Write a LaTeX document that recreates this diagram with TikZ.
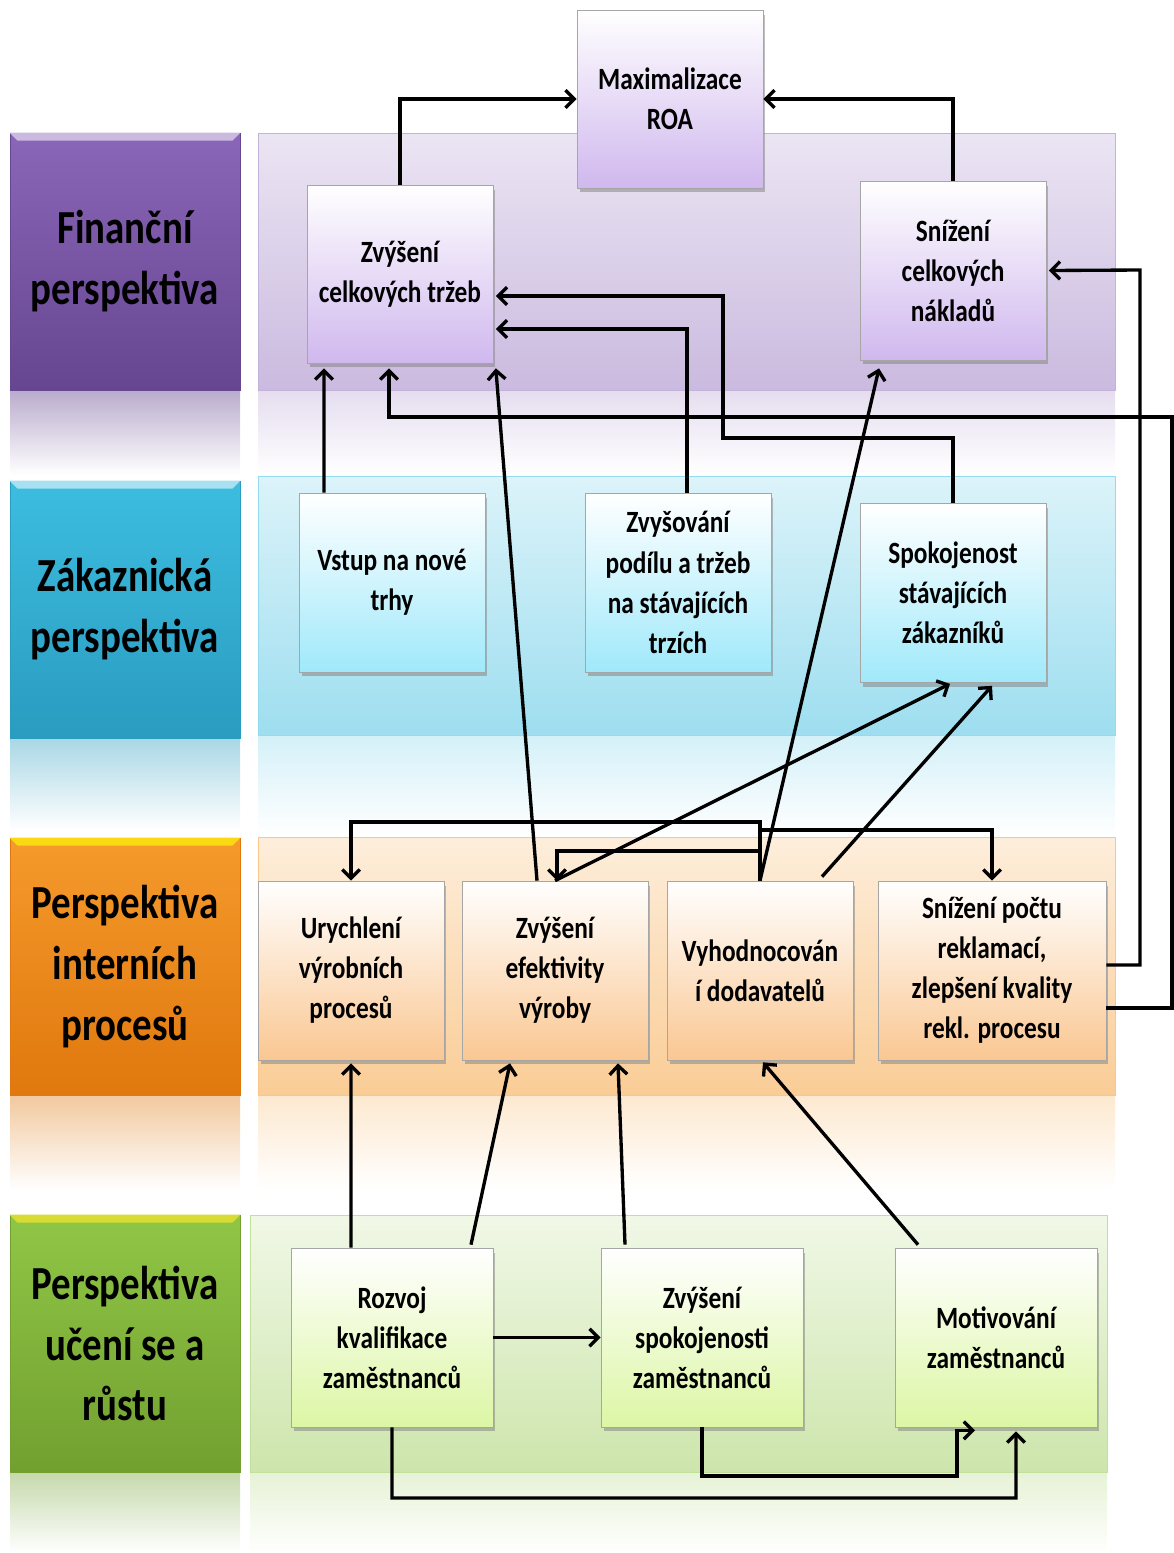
\documentclass[tikz,border=0pt]{standalone}
\usepackage{fontspec}
\setmainfont{Carlito}[FakeStretch=0.82]
\usetikzlibrary{shadows,arrows.meta}

\definecolor{finDark}{HTML}{664690}
\definecolor{finMid}{HTML}{8A66B8}
\definecolor{zakDark}{HTML}{2A9CC0}
\definecolor{zakMid}{HTML}{3CBDE0}
\definecolor{intDark}{HTML}{E0780E}
\definecolor{intMid}{HTML}{F59A2C}
\definecolor{ucDark}{HTML}{72A030}
\definecolor{ucMid}{HTML}{90C646}
\definecolor{finbox}{HTML}{D0B8EE}
\definecolor{zakbox}{HTML}{A0E9FA}
\definecolor{intbox}{HTML}{FAC792}
\definecolor{ucbox}{HTML}{DCF6A4}

\tikzset{
  label/.style={minimum width=4.6cm, minimum height=5.14cm, align=center,
    font=\bfseries\fontsize{27}{34.7}\selectfont},
  box/.style={draw=black!35, minimum width=3.72cm, minimum height=3.58cm, align=center,
    font=\bfseries\fontsize{17.6}{22.8}\selectfont,
    drop shadow={opacity=0.5, shadow xshift=0.5mm, shadow yshift=-0.9mm}},
  arr/.style={-{Straight Barb[length=5pt,width=10pt]}, line width=1.9pt},
}

\begin{document}
\begin{tikzpicture}[x=0.02cm, y=-0.02cm]
  \useasboundingbox (0,0) rectangle (1174,1553);

  % pasy perspektiv
  \shade[top color=finMid!17!white, bottom color=finMid!45!white, draw=finMid!50] (258,133) rectangle (1115,390);
  \shade[top color=finMid!22!white, bottom color=white] (258,391) rectangle (1115,475);
  \shade[top color=zakMid!18!white, bottom color=zakMid!50!white, draw=zakMid!55] (258,476) rectangle (1115,735);
  \shade[top color=zakMid!22!white, bottom color=white] (258,736) rectangle (1115,836);
  \shade[top color=intMid!17!white, bottom color=intMid!50!white, draw=intMid!55] (258,837) rectangle (1115,1095);
  \shade[top color=intMid!22!white, bottom color=white] (258,1096) rectangle (1115,1190);
  \shade[top color=ucMid!13!white, bottom color=ucMid!45!white, draw=ucMid!55] (250,1215) rectangle (1107,1472);
  \shade[top color=ucMid!22!white, bottom color=white] (250,1473) rectangle (1107,1553);

  % odlesky pod popisky
  \shade[top color=finDark!45!white, bottom color=white] (10,391) rectangle (240,475);
  \shade[top color=zakDark!40!white, bottom color=white] (10,739) rectangle (240,830);
  \shade[top color=intDark!40!white, bottom color=white] (10,1096) rectangle (240,1190);
  \shade[top color=ucDark!40!white, bottom color=white] (10,1473) rectangle (240,1553);

  % popisky perspektiv
  \node [label, top color=finMid, bottom color=finDark, draw=finDark] (fin) at (125,261.5) {Finanční\\perspektiva};
  \node [label, top color=zakMid, bottom color=zakDark, draw=zakDark] (zak) at (125,609.5) {Zákaznická\\perspektiva};
  \node [label, top color=intMid, bottom color=intDark, draw=intDark] (int) at (125,966.5) {Perspektiva\\interních\\procesů};
  \node [label, top color=ucMid, bottom color=ucDark, draw=ucDark] (uc) at (125,1343.5) {Perspektiva\\učení se a\\růstu};
  % horni hrana popisku
  \fill[finMid!45!white] (fin.north west) -- (fin.north east) -- ++(-8,8) -- ([xshift=0.16cm,yshift=-0.16cm]fin.north west) -- cycle;
  \fill[zakMid!45!white] (zak.north west) -- (zak.north east) -- ++(-8,8) -- ([xshift=0.16cm,yshift=-0.16cm]zak.north west) -- cycle;
  \fill[yellow!70!intMid] (int.north west) -- (int.north east) -- ++(-8,8) -- ([xshift=0.16cm,yshift=-0.16cm]int.north west) -- cycle;
  \fill[yellow!60!ucMid] (uc.north west) -- (uc.north east) -- ++(-8,8) -- ([xshift=0.16cm,yshift=-0.16cm]uc.north west) -- cycle;

  % financni
  \node [box, top color=white, bottom color=finbox, minimum height=3.56cm] (roa) at (670,99) {Maximalizace\\ROA};
  \node [box, top color=white, bottom color=finbox, minimum height=3.56cm] (trzby) at (400,274) {Zvýšení\\celkových tržeb};
  \node [box, top color=white, bottom color=finbox] (naklady) at (953,270.5) {Snížení\\celkových\\nákladů};

  % zakaznicka
  \node [box, top color=white, bottom color=zakbox] (vstup) at (392,582.5) {Vstup na nové\\trhy};
  \node [box, top color=white, bottom color=zakbox] (podil) at (678,582.5) {Zvyšování\\podílu a tržeb\\na stávajících\\trzích};
  \node [box, top color=white, bottom color=zakbox] (spokoj) at (953,593) {Spokojenost\\stávajících\\zákazníků};

  % interni procesy
  \node [box, top color=white, bottom color=intbox] (urych) at (351,970.5) {Urychlení\\výrobních\\procesů};
  \node [box, top color=white, bottom color=intbox] (efekt) at (555,970.5) {Zvýšení\\efektivity\\výroby};
  \node [box, top color=white, bottom color=intbox] (vyhod) at (760,970.5) {Vyhodnocován\\í dodavatelů};
  \node [box, top color=white, bottom color=intbox, minimum width=4.56cm] (reklam) at (992,970.5) {Snížení počtu\\reklamací,\\zlepšení kvality\\rekl. procesu};

  % uceni a rust
  \node [box, top color=white, bottom color=ucbox, minimum width=4.04cm] (rozvoj) at (392,1337.5) {Rozvoj\\kvalifikace\\zaměstnanců};
  \node [box, top color=white, bottom color=ucbox, minimum width=4.04cm] (spokzam) at (702,1337.5) {Zvýšení\\spokojenosti\\zaměstnanců};
  \node [box, top color=white, bottom color=ucbox, minimum width=4.04cm] (motiv) at (996,1337.5) {Motivování\\zaměstnanců};

  % vazby
  \draw [arr] (trzby.north) |- (roa.west);
  \draw [arr] (naklady.north) |- (roa.east);
  \draw [arr] ([xshift=-1.36cm]vstup.north) -- ([xshift=-1.52cm,yshift=-0.1cm]trzby.south);
  \draw [arr] ([xshift=0.18cm]podil.north) |- ([yshift=-1.1cm,xshift=0.05cm]trzby.east);
  \draw [arr] (spokoj.north) |- (723,438) |- ([yshift=-0.44cm,xshift=0.05cm]trzby.east);
  \draw [arr] ([yshift=-0.75cm]reklam.east) -| (1172,417) -| ([xshift=-0.22cm,yshift=-0.1cm]trzby.south);
  \draw [arr] ([yshift=0.11cm]reklam.east) -| (1140,270) -- ([xshift=0.05cm]naklady.east);
  \draw [arr] ([xshift=-0.36cm]efekt.north) -- ([xshift=0.05cm,yshift=-0.1cm]trzby.south east);
  \draw [arr] (vyhod.north) -- ([xshift=-1.48cm,yshift=-0.16cm]naklady.south);
  \draw [arr] (efekt.north) -- ([xshift=-0.06cm,yshift=-0.02cm]spokoj.south);
  \draw [arr] ([xshift=1.24cm,yshift=0.08cm]vyhod.north) -- ([xshift=0.78cm,yshift=-0.06cm]spokoj.south);
  \draw [arr] (vyhod.north) -- (760,822) -| (urych.north);
  \draw [arr] (vyhod.north) -- (760,830) -| (reklam.north);
  \draw [arr] (vyhod.north) -- (760,851) -| ([xshift=0.04cm]efekt.north);
  \draw [arr] ([xshift=-0.82cm]rozvoj.north) -- ([yshift=-0.06cm]urych.south);
  \draw [arr] ([xshift=1.58cm,yshift=0.06cm]rozvoj.north) -- ([xshift=-0.9cm,yshift=-0.06cm]efekt.south);
  \draw [arr] ([xshift=-1.54cm,yshift=0.06cm]spokzam.north) -- ([xshift=1.26cm,yshift=-0.06cm]efekt.south);
  \draw [arr] ([xshift=-1.56cm,yshift=0.06cm]motiv.north) -- ([xshift=0.06cm,yshift=-0.04cm]vyhod.south);
  \draw [arr] (rozvoj.east) -- (spokzam.west);
  \draw [arr] (spokzam.south) |- (957,1476) |- ([xshift=-0.42cm,yshift=-0.06cm]motiv.south);
  \draw [arr] (rozvoj.south) |- (1016,1498) -- ([xshift=0.4cm,yshift=-0.08cm]motiv.south);
\end{tikzpicture}
\end{document}
